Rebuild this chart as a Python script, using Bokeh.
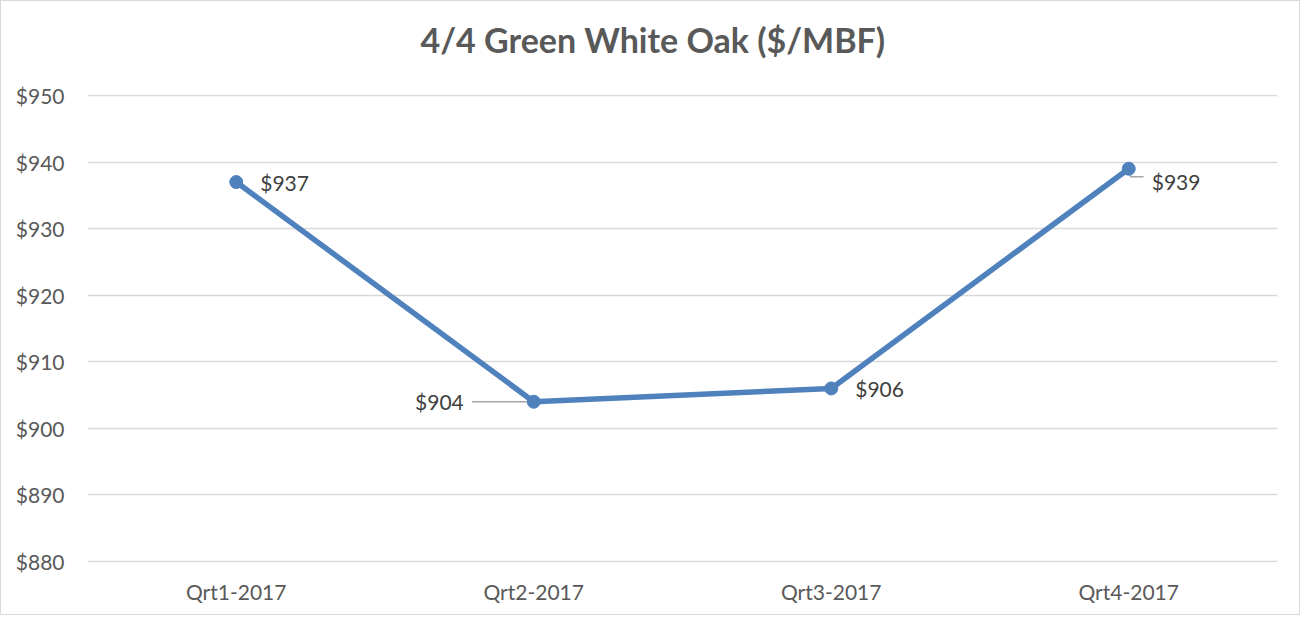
from bokeh.plotting import figure
from bokeh.models import ColumnDataSource, FixedTicker, NumeralTickFormatter, Title
from bokeh.transform import dodge
from bokeh.core.properties import value
from bokeh.embed import file_html
from bokeh.resources import INLINE

quarters = ["Qrt1-2017", "Qrt2-2017", "Qrt3-2017", "Qrt4-2017"]
prices = [937, 904, 906, 939]
labels = ["$937", "$904", "$906", "$939"]
y_ticks = [880, 890, 900, 910, 920, 930, 940, 950]
title_text = "4/4 Green White Oak ($/MBF)"

FONT = "Lato"
GRAY = "#595959"
BLUE = "#4F81BD"
LEAD = "#A6A6A6"

p = figure(x_range=quarters, y_range=(879.85, 950.15), width=1300, height=615,
           output_backend="svg", toolbar_location=None,
           min_border_left=86, min_border_right=24, min_border_top=93, min_border_bottom=54)
p.styles = {"border": "1px solid #d9d9d9", "box-sizing": "border-box"}
p.x_range.range_padding = 0
p.outline_line_color = None
p.background_fill_color = "white"
p.border_fill_color = "white"

# real title outermost, empty spacer title between it and the frame
p.title.text = title_text
p.title.align = "left"
p.title.offset = 333
p.title.text_font = FONT
p.title.text_font_style = "bold"
p.title.text_font_size = "34px"
p.title.text_color = GRAY
p.title.standoff = 0

spacer = Title(text=" ", text_font_size="30px", standoff=0)
p.add_layout(spacer, "above")

p.yaxis.ticker = FixedTicker(ticks=y_ticks)
p.yaxis.formatter = NumeralTickFormatter(format="$0")
for ax in (p.xaxis, p.yaxis):
    ax.axis_line_color = None
    ax.major_tick_line_color = None
    ax.minor_tick_line_color = None
    ax.major_label_text_font = FONT
    ax.major_label_text_font_size = "21px"
    ax.major_label_text_color = GRAY
p.yaxis.major_label_standoff = 17
p.xaxis.major_label_standoff = 10

p.xgrid.grid_line_color = None
p.ygrid.grid_line_color = "#D9D9D9"
p.ygrid.grid_line_width = 1.5

src = ColumnDataSource(dict(x=quarters, y=prices, label=labels,
                            xo=[24, -70, 24, 23], yo=[0, 0, 0, 13],
                            align=["left", "right", "left", "left"]))

# leader lines
q2 = quarters[1]
q4 = quarters[3]
lead_a = ColumnDataSource(dict(x=[q2], y0=[prices[1]], y1=[prices[1]]))
p.segment(x0=dodge("x", -0.208, range=p.x_range), y0="y0",
          x1=dodge("x", -0.02, range=p.x_range), y1="y1",
          source=lead_a, line_color=LEAD, line_width=1.5)
lead_b = ColumnDataSource(dict(x=[q4], y0=[prices[3]], y1=[prices[3] - 1.2]))
p.segment(x0=dodge("x", 0.005, range=p.x_range), y0="y0",
          x1=dodge("x", 0.005, range=p.x_range), y1="y1",
          source=lead_b, line_color=LEAD, line_width=1.5)
lead_c = ColumnDataSource(dict(x=[q4], y0=[prices[3] - 1.2], y1=[prices[3] - 1.2]))
p.segment(x0=dodge("x", 0.005, range=p.x_range), y0="y0",
          x1=dodge("x", 0.05, range=p.x_range), y1="y1",
          source=lead_c, line_color=LEAD, line_width=1.5)

p.line("x", "y", source=src, line_color=BLUE, line_width=5.5)
p.scatter("x", "y", source=src, size=13, fill_color=BLUE, line_color=BLUE)

p.text("x", "y", text="label", source=src, x_offset="xo", y_offset="yo",
       text_align="align", text_baseline="middle",
       text_font=value(FONT), text_font_size="21px", text_color="#404040")

open("out.html", "w").write(file_html(p, INLINE))
